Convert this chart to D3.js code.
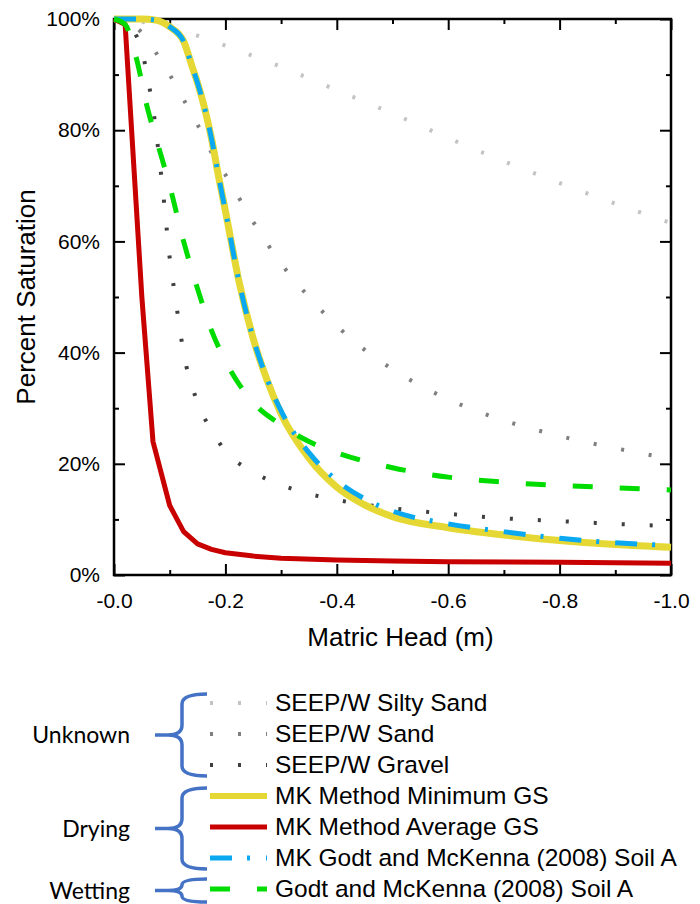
<!DOCTYPE html>
<html>
<head>
<meta charset="utf-8">
<script src="https://cdn.jsdelivr.net/npm/d3@7"></script>
<style>
  body { margin: 0; background: #fff; }
  text { font-family: "Liberation Sans", Arial, sans-serif; fill: #000; }
  .group-label { font-family: Lato, "Open Sans", sans-serif; }
</style>
</head>
<body>
<script>
// matric head (m) and percent saturation (fraction) for each curve
var siltySandHead = [0, -0.05, -0.1, -0.15, -0.2, -0.3, -0.4, -0.5, -0.6, -0.7, -0.8, -0.9, -1.0];
var siltySandSat  = [1.0, 0.995, 0.985, 0.97, 0.952, 0.914, 0.872, 0.83, 0.786, 0.744, 0.705, 0.668, 0.633];

var sandHead = [0, -0.025, -0.05, -0.075, -0.1, -0.125, -0.15, -0.175, -0.2, -0.25, -0.3, -0.35, -0.4, -0.45, -0.5, -0.6, -0.7, -0.8, -0.9, -1.0];
var sandSat  = [1.0, 0.995, 0.975, 0.94, 0.90, 0.855, 0.81, 0.76, 0.72, 0.635, 0.56, 0.50, 0.448, 0.405, 0.37, 0.316, 0.278, 0.25, 0.228, 0.209];

var gravelHead = [0, -0.025, -0.04, -0.05, -0.06, -0.07, -0.08, -0.09, -0.1, -0.11, -0.12, -0.13, -0.14, -0.15, -0.175, -0.2, -0.25, -0.3, -0.35, -0.4, -0.5, -0.6, -0.7, -0.8, -0.9, -1.0];
var gravelSat  = [1.0, 0.99, 0.97, 0.945, 0.895, 0.84, 0.76, 0.67, 0.57, 0.50, 0.43, 0.375, 0.34, 0.31, 0.26, 0.223, 0.185, 0.162, 0.146, 0.135, 0.12, 0.11, 0.102, 0.097, 0.092, 0.088];

var minGsHead = [0, -0.05, -0.075, -0.1, -0.125, -0.14, -0.15, -0.16, -0.175, -0.19, -0.2, -0.225, -0.25, -0.275, -0.3, -0.35, -0.4, -0.45, -0.5, -0.6, -0.7, -0.8, -0.9, -1.0];
var minGsSat  = [1.0, 1.0, 0.998, 0.986, 0.96, 0.915, 0.885, 0.85, 0.785, 0.705, 0.655, 0.525, 0.425, 0.35, 0.29, 0.21, 0.158, 0.126, 0.105, 0.085, 0.072, 0.062, 0.055, 0.05];

var avgGsHead = [0, -0.02, -0.05, -0.07, -0.1, -0.125, -0.15, -0.175, -0.2, -0.25, -0.3, -0.4, -0.5, -0.6, -0.8, -1.0];
var avgGsSat  = [1.0, 0.99, 0.50, 0.24, 0.125, 0.078, 0.056, 0.046, 0.04, 0.034, 0.03, 0.027, 0.025, 0.024, 0.023, 0.021];

var mkGodtHead = [0, -0.05, -0.075, -0.1, -0.125, -0.14, -0.15, -0.16, -0.175, -0.19, -0.2, -0.225, -0.25, -0.275, -0.3, -0.35, -0.4, -0.45, -0.5, -0.6, -0.7, -0.8, -0.9, -1.0];
var mkGodtSat  = [1.0, 1.0, 0.998, 0.986, 0.96, 0.915, 0.885, 0.85, 0.785, 0.705, 0.655, 0.525, 0.425, 0.352, 0.295, 0.22, 0.17, 0.137, 0.115, 0.092, 0.078, 0.066, 0.058, 0.053];

var godtHead = [0, -0.02, -0.04, -0.06, -0.08, -0.1, -0.125, -0.15, -0.175, -0.2, -0.25, -0.3, -0.35, -0.4, -0.5, -0.6, -0.7, -0.8, -0.9, -1.0];
var godtSat  = [1.0, 0.99, 0.93, 0.84, 0.77, 0.70, 0.60, 0.515, 0.44, 0.385, 0.31, 0.27, 0.24, 0.22, 0.193, 0.176, 0.167, 0.161, 0.157, 0.153];

var seriesNames = ["SEEP/W Silty Sand", "SEEP/W Sand", "SEEP/W Gravel", "MK Method Minimum GS",
                   "MK Method Average GS", "MK Godt and McKenna (2008) Soil A", "Godt and McKenna (2008) Soil A"];
var groupNames = ["Unknown", "Drying", "Wetting"];

var xMajorTicks = [0, -0.2, -0.4, -0.6, -0.8, -1.0];
var xMinorTicks = [-0.1, -0.3, -0.5, -0.7, -0.9];
var yMajorTicks = [0, 0.2, 0.4, 0.6, 0.8, 1.0];
var yMinorTicks = [0.1, 0.3, 0.5, 0.7, 0.9];

var zip = (h, s) => h.map((d, i) => ({ head: d, sat: s[i] }));

var series = [
  { name: seriesNames[0], data: zip(siltySandHead, siltySandSat), color: "#c3c3c3", width: 4, dash: "3,25", smooth: true },
  { name: seriesNames[1], data: zip(sandHead, sandSat), color: "#7f7f7f", width: 4, dash: "3,25", smooth: true },
  { name: seriesNames[2], data: zip(gravelHead, gravelSat), color: "#3f3f3f", width: 4, dash: "3,25", smooth: true },
  { name: seriesNames[3], data: zip(minGsHead, minGsSat), color: "#e6d834", width: 7, dash: null, smooth: true },
  { name: seriesNames[4], data: zip(avgGsHead, avgGsSat), color: "#c80000", width: 5, dash: null, smooth: false },
  { name: seriesNames[5], data: zip(mkGodtHead, mkGodtSat), color: "#0aa8f0", width: 5, dash: "22,15,3,16", smooth: true },
  { name: seriesNames[6], data: zip(godtHead, godtSat), color: "#00dc00", width: 5, dash: "20,27", smooth: true }
];

var svgWidth = 700;
var svgHeight = 904;
var margin = { top: 19, right: 29, bottom: 329, left: 114 };
var width = svgWidth - margin.left - margin.right;
var height = svgHeight - margin.top - margin.bottom;

var svg = d3.select("body").append("svg")
  .attr("width", svgWidth)
  .attr("height", svgHeight);

var chartGroup = svg.append("g")
  .attr("transform", `translate(${margin.left}, ${margin.top})`);

var xScale = d3.scaleLinear().domain([0, -1]).range([0, width]);
var yScale = d3.scaleLinear().domain([0, 1]).range([height, 0]);

var fmtX = d => "-" + Math.abs(d).toFixed(1);
var fmtY = d3.format(".0%");

// axes: ticks point inward on all four sides
function styleAxis(g, fontSize) {
  g.select(".domain").remove();
  g.selectAll("line").attr("stroke", "#000").attr("stroke-width", 2);
  g.selectAll("text").style("font-size", fontSize).attr("fill", "#000");
}

chartGroup.append("g")
  .attr("transform", `translate(0,${height})`)
  .call(d3.axisBottom(xScale).tickValues(xMajorTicks).tickFormat(fmtX).tickSizeInner(-11).tickSizeOuter(0).tickPadding(18))
  .call(g => styleAxis(g, "21px"));
chartGroup.append("g")
  .attr("transform", `translate(0,${height})`)
  .call(d3.axisBottom(xScale).tickValues(xMinorTicks).tickFormat("").tickSizeInner(-5).tickSizeOuter(0))
  .call(g => styleAxis(g, "0px"));
chartGroup.append("g")
  .call(d3.axisTop(xScale).tickValues(xMajorTicks).tickFormat("").tickSizeInner(-11).tickSizeOuter(0))
  .call(g => styleAxis(g, "0px"));
chartGroup.append("g")
  .call(d3.axisTop(xScale).tickValues(xMinorTicks).tickFormat("").tickSizeInner(-5).tickSizeOuter(0))
  .call(g => styleAxis(g, "0px"));

chartGroup.append("g")
  .call(d3.axisLeft(yScale).tickValues(yMajorTicks).tickFormat(fmtY).tickSizeInner(-11).tickSizeOuter(0).tickPadding(14))
  .call(g => styleAxis(g, "21px"));
chartGroup.append("g")
  .call(d3.axisLeft(yScale).tickValues(yMinorTicks).tickFormat("").tickSizeInner(-5).tickSizeOuter(0))
  .call(g => styleAxis(g, "0px"));
chartGroup.append("g")
  .attr("transform", `translate(${width},0)`)
  .call(d3.axisRight(yScale).tickValues(yMajorTicks).tickFormat("").tickSizeInner(-11).tickSizeOuter(0))
  .call(g => styleAxis(g, "0px"));
chartGroup.append("g")
  .attr("transform", `translate(${width},0)`)
  .call(d3.axisRight(yScale).tickValues(yMinorTicks).tickFormat("").tickSizeInner(-5).tickSizeOuter(0))
  .call(g => styleAxis(g, "0px"));

chartGroup.append("rect")
  .attr("width", width)
  .attr("height", height)
  .attr("fill", "none")
  .attr("stroke", "#000")
  .attr("stroke-width", 2.5);

// curves
series.forEach(s => {
  var line = d3.line()
    .x(d => xScale(d.head))
    .y(d => yScale(d.sat))
    .curve(s.smooth ? d3.curveMonotoneX : d3.curveLinear);
  chartGroup.append("path")
    .datum(s.data)
    .attr("d", line)
    .attr("fill", "none")
    .attr("stroke", s.color)
    .attr("stroke-width", s.width)
    .attr("stroke-dasharray", s.dash)
    .attr("stroke-linejoin", "round");
});

// axis titles
chartGroup.append("text")
  .attr("transform", "rotate(-90)")
  .attr("x", -height / 2)
  .attr("y", -79)
  .attr("text-anchor", "middle")
  .style("font-size", "26px")
  .text("Percent Saturation");

chartGroup.append("text")
  .attr("x", width / 2 + 8)
  .attr("y", height + 71)
  .attr("text-anchor", "middle")
  .style("font-size", "26px")
  .text("Matric Head (m)");

// legend
var legend = svg.append("g");
var rowY = d3.scaleLinear().domain([0, 6]).range([703, 889]);

var rows = legend.selectAll("g.row")
  .data(series)
  .enter()
  .append("g")
  .attr("transform", (d, i) => `translate(0,${rowY(i)})`);

rows.append("line")
  .attr("x1", 210).attr("x2", 267)
  .attr("stroke", d => d.color)
  .attr("stroke-width", d => Math.min(d.width, 6))
  .attr("stroke-dasharray", d => d.dash);

rows.append("text")
  .attr("x", 275)
  .attr("dy", "0.34em")
  .style("font-size", "24.5px")
  .text(d => d.name);

// braces grouping the legend rows
var groups = [
  { name: groupNames[0], top: 694, bottom: 776 },
  { name: groupNames[1], top: 788, bottom: 869 },
  { name: groupNames[2], top: 879, bottom: 902 }
];

function bracePath(top, bottom) {
  var mid = (top + bottom) / 2;
  var r = Math.min(10, (bottom - top) / 4);
  return `M207,${top} Q182,${top} 182,${top + r} L182,${mid - r} Q182,${mid} 168,${mid} L155,${mid}` +
         ` M168,${mid} Q182,${mid} 182,${mid + r} L182,${bottom - r} Q182,${bottom} 207,${bottom}`;
}

groups.forEach(g => {
  legend.append("path")
    .attr("d", bracePath(g.top, g.bottom))
    .attr("fill", "none")
    .attr("stroke", "#4472c4")
    .attr("stroke-width", 3.5);
  legend.append("text")
    .attr("class", "group-label")
    .attr("x", 130)
    .attr("y", (g.top + g.bottom) / 2)
    .attr("dy", "0.36em")
    .attr("text-anchor", "end")
    .style("font-size", "23px")
    .text(g.name);
});
</script>
</body>
</html>
